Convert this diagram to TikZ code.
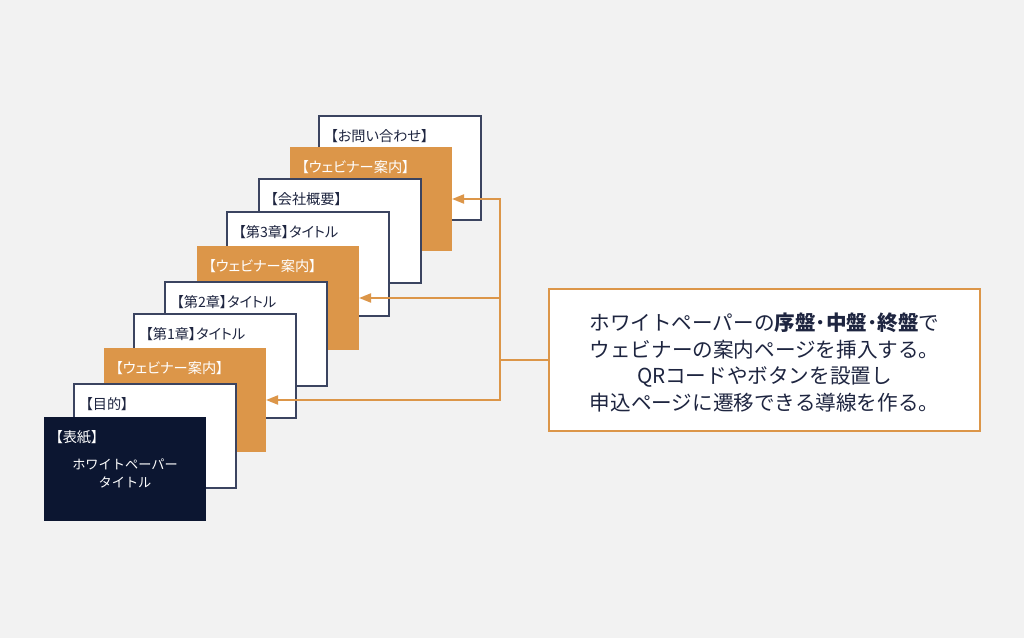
\documentclass[tikz,border=0pt]{standalone}
\usepackage{fontspec}
\setmainfont{Noto Sans CJK JP}
\newfontfamily\lblfont[RawFeature=+palt]{Noto Sans CJK JP}
\usetikzlibrary{arrows.meta}
\definecolor{bg}{HTML}{F2F2F2}
\definecolor{navy}{HTML}{0C1631}
\definecolor{org}{HTML}{DC9649}
\definecolor{edge}{HTML}{3B4460}
\definecolor{ink}{HTML}{1E2540}
\begin{document}
\begin{tikzpicture}[x=1bp,y=-1bp,
 page/.style={anchor=north west, minimum width=162bp, minimum height=104bp, inner sep=0pt, outer sep=0pt},
 wpage/.style={page, fill=white, draw=edge, line width=1.4bp},
 opage/.style={page, fill=org},
 npage/.style={page, fill=navy},
 lbl/.style={anchor=west, inner sep=0pt, font=\lblfont\fontsize{14.2bp}{16bp}\selectfont, text=ink},
 wlbl/.style={lbl, text=white},
 conn/.style={draw=org, line width=2bp},
 arr/.style={conn, -{Triangle[length=12bp,width=9bp]}},
 note/.style={draw=org, line width=2bp, fill=white, minimum width=431bp, minimum height=142bp, inner sep=0pt},
 notetext/.style={align=center, inner sep=0pt, font=\fontsize{20.6bp}{26.7bp}\selectfont, text=ink},
]
\useasboundingbox (0,0) rectangle (1024,638);
\fill[bg] (0,0) rectangle (1024,638);

\node[wpage] (p10) at (319,116) {};
\node[lbl] (l10) at ([xshift=11.5bp,yshift=-20.5bp]p10.north west) {【お問い合わせ】};
\node[opage] (p9) at (290,147) {};
\node[wlbl] (l9) at ([xshift=11.5bp,yshift=-20.5bp]p9.north west) {【ウェビナー案内】};
\node[wpage] (p8) at (259,179) {};
\node[lbl] (l8) at ([xshift=11.5bp,yshift=-20.5bp]p8.north west) {【会社概要】};
\node[wpage] (p7) at (227,212) {};
\node[lbl] (l7) at ([xshift=11.5bp,yshift=-20.5bp]p7.north west) {【第3章】タイトル};
\node[opage] (p6) at (197,246) {};
\node[wlbl] (l6) at ([xshift=11.5bp,yshift=-20.5bp]p6.north west) {【ウェビナー案内】};
\node[wpage] (p5) at (165,282) {};
\node[lbl] (l5) at ([xshift=11.5bp,yshift=-20.5bp]p5.north west) {【第2章】タイトル};
\node[wpage] (p4) at (134,314) {};
\node[lbl] (l4) at ([xshift=11.5bp,yshift=-20.5bp]p4.north west) {【第1章】タイトル};
\node[opage] (p3) at (104,348) {};
\node[wlbl] (l3) at ([xshift=11.5bp,yshift=-20.5bp]p3.north west) {【ウェビナー案内】};
\node[wpage] (p2) at (74,384) {};
\node[lbl] (l2) at ([xshift=11.5bp,yshift=-20.5bp]p2.north west) {【目的】};
\node[npage] (p1) at (44,417) {};
\node[wlbl] (l1) at ([xshift=11.5bp,yshift=-20.5bp]p1.north west) {【表紙】};
\node[align=center, inner sep=0pt, text=white, font=\fontsize{13.2bp}{18bp}\selectfont] (t1) at (125,473.5) {ホワイトペーパー\\タイトル};

\node[note] (note) at (764.5,360) {};
\node[notetext] (nt) at (764.5,362.5) {ホワイトペーパーの\textbf{序盤･中盤･終盤}で\\ウェビナーの案内ページを挿入する。\\QRコードやボタンを設置し\\申込ページに遷移できる導線を作る。};

\coordinate (j) at (500,360);
\draw[conn] (note.west) -- (j);
\draw[arr] (j) |- (p9.east);
\draw[arr] (j) |- (p6.east);
\draw[arr] (j) |- (p3.east);
\end{tikzpicture}
\end{document}
